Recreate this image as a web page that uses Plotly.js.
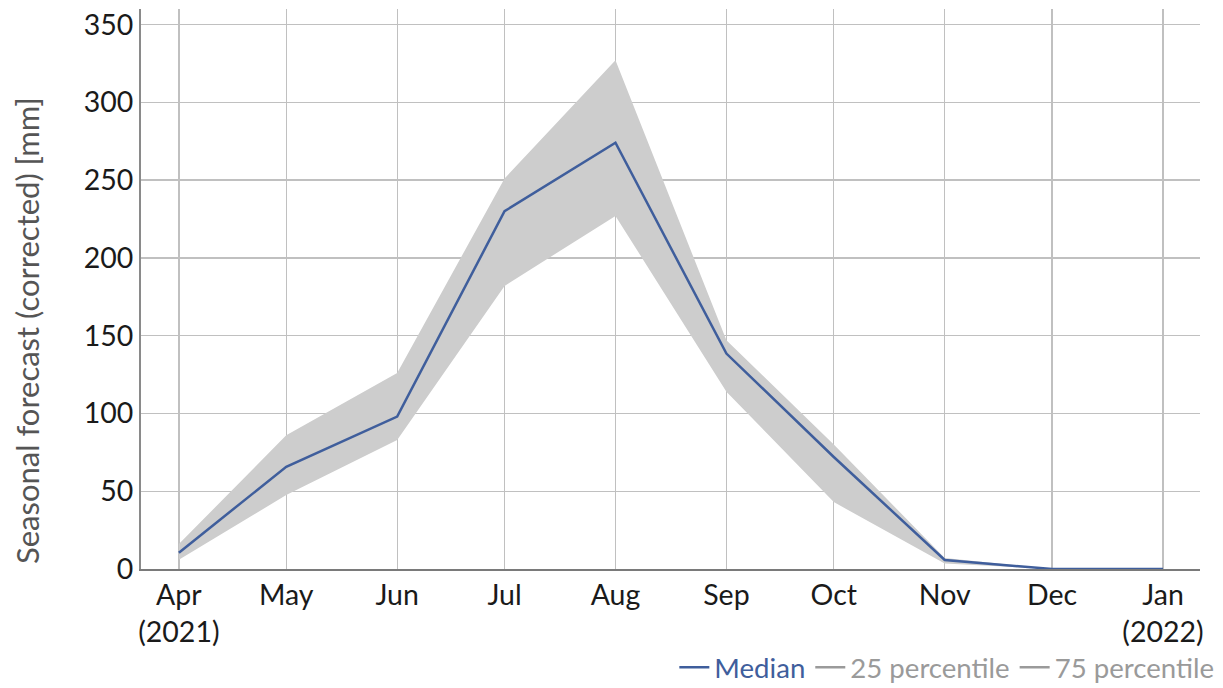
<!DOCTYPE html>
<html>
<head>
<meta charset="utf-8">
<script src="https://cdn.plot.ly/plotly-3.0.1.min.js"></script>
<style>
  html, body { margin: 0; padding: 0; background: #ffffff; }
  #chart { width: 1223px; height: 688px; }
</style>
</head>
<body>
<div id="chart"></div>
<script>
  // monthly seasonal forecast
  const months = ['2021-04-01', '2021-05-01', '2021-06-01', '2021-07-01', '2021-08-01',
                  '2021-09-01', '2021-10-01', '2021-11-01', '2021-12-01', '2022-01-01'];
  const median = [10.5, 65.7, 98, 230, 274, 138.5, 72, 5.8, 0, 0];
  const p25 = [6, 47.5, 83, 182, 227, 114, 43, 3.5, 0, 0];
  const p75 = [16, 86, 126, 251, 327, 147, 80, 7, 0, 0];
  const tickLabels = ['Apr<br>(2021)', 'May', 'Jun', 'Jul', 'Aug', 'Sep', 'Oct', 'Nov', 'Dec', 'Jan<br>(2022)'];
  const yTitle = 'Seasonal forecast (corrected) [mm]';

  const FONT = 'Lato, "Open Sans", sans-serif';
  const BLUE = '#3f5e9c';
  const BAND = '#cdcdcd';
  const GREY = '#9a9a9a';

  const traces = [
    // band: lower edge then upper edge filled to it
    { x: months, y: p25, type: 'scatter', mode: 'lines', line: { width: 0, color: BAND },
      showlegend: false, hoverinfo: 'skip' },
    { x: months, y: p75, type: 'scatter', mode: 'lines', line: { width: 0, color: BAND },
      fill: 'tonexty', fillcolor: BAND, showlegend: false, hoverinfo: 'skip' },
    { x: months, y: median, type: 'scatter', mode: 'lines', name: '<span style="color:' + BLUE + '">Median</span>',
      line: { color: BLUE, width: 2.5 } },
    // legend-only entries for the percentile edges (no drawn points)
    { x: [null], y: [null], type: 'scatter', mode: 'lines', name: '<span style="color:' + GREY + '">25 percentile</span>',
      line: { color: GREY, width: 2.5 } },
    { x: [null], y: [null], type: 'scatter', mode: 'lines', name: '<span style="color:' + GREY + '">75 percentile</span>',
      line: { color: GREY, width: 2.5 } }
  ];

  const layout = {
    width: 1223,
    height: 688,
    margin: { l: 141, r: 23, t: 9, b: 119 },
    paper_bgcolor: '#ffffff',
    plot_bgcolor: '#ffffff',
    font: { family: FONT, size: 27, color: '#1a1a1a' },
    xaxis: {
      type: 'date',
      range: ['2021-03-21 10:00', '2022-01-11 08:00'],
      tickmode: 'array',
      tickvals: months,
      ticktext: tickLabels,
      tickangle: 0,
      showgrid: true,
      gridcolor: '#c0c0c0',
      gridwidth: 1.3,
      showline: true,
      linecolor: '#7a7a7a',
      linewidth: 2,
      zeroline: false,
      ticks: '',
      ticklabelstandoff: 0,
      automargin: false,
      tickfont: { family: FONT, size: 28.5, color: '#1a1a1a' }
    },
    yaxis: {
      range: [0, 360],
      tickvals: [0, 50, 100, 150, 200, 250, 300, 350],
      showgrid: true,
      gridcolor: '#c0c0c0',
      gridwidth: 1.3,
      showline: true,
      linecolor: '#8a8a8a',
      linewidth: 2,
      zeroline: false,
      ticks: '',
      ticklabelstandoff: 0,
      automargin: false,
      tickfont: { family: FONT, size: 28.5, color: '#1a1a1a' }
    },
    // y title sits a bit below the plot centre in the reference, so it is placed as an annotation
    annotations: [{
      text: yTitle,
      xref: 'paper', yref: 'paper',
      x: 0, y: 0.425,
      xanchor: 'center', yanchor: 'middle',
      xshift: -114,
      textangle: -90,
      showarrow: false,
      font: { family: FONT, size: 31, color: '#555555' }
    }],
    showlegend: true,
    legend: {
      orientation: 'h',
      xref: 'container', yref: 'container',
      x: 0.997, xanchor: 'right',
      y: 0.03, yanchor: 'middle',
      font: { family: FONT, size: 27.6, color: GREY },
      itemwidth: 30,
      tracegroupgap: 0,
      traceorder: 'normal',
      bgcolor: 'rgba(0,0,0,0)'
    }
  };

  Plotly.newPlot('chart', traces, layout, { displayModeBar: false, staticPlot: true });
</script>
</body>
</html>
